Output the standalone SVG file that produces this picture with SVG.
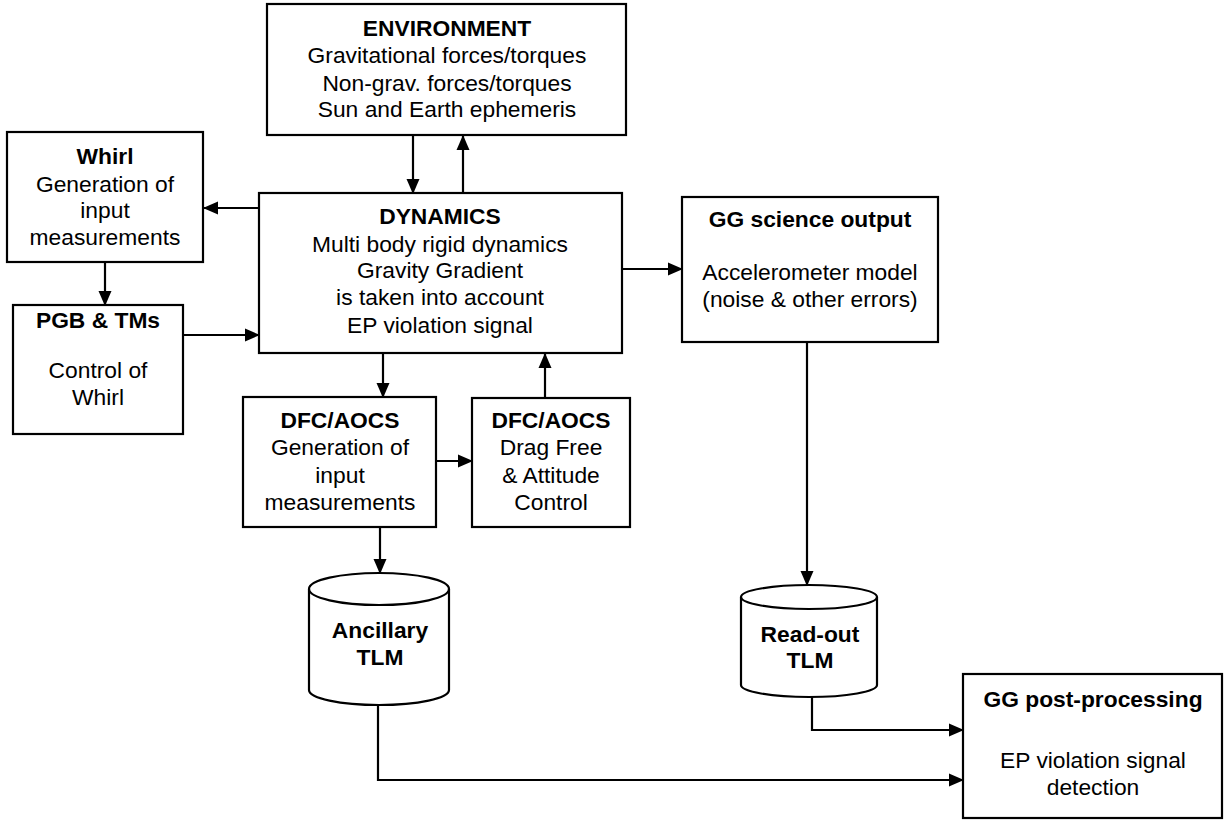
<svg xmlns="http://www.w3.org/2000/svg" width="1225" height="820" viewBox="0 0 1225 820">
<style>
.box{fill:#fff;stroke:#000;stroke-width:2.2}
.t{font-family:"Liberation Sans",Arial,sans-serif;font-size:22.8px;fill:#000;text-anchor:middle}
.b{font-weight:bold}
.c{fill:none;stroke:#000;stroke-width:2.2}
</style>
<defs>
<marker id="ah" markerWidth="15" markerHeight="14" refX="14" refY="7" orient="auto" markerUnits="userSpaceOnUse">
<path d="M0,0.5 L15,7 L0,13.5 Z" fill="#000"/>
</marker>
</defs>
<rect width="1225" height="820" fill="#fff"/>
<g id="connectors">
<line class="c" x1="413" y1="135" x2="413" y2="193" marker-end="url(#ah)"/>
<line class="c" x1="463" y1="193" x2="463" y2="136" marker-end="url(#ah)"/>
<line class="c" x1="259" y1="208" x2="204" y2="208" marker-end="url(#ah)"/>
<line class="c" x1="105" y1="262" x2="105" y2="305" marker-end="url(#ah)"/>
<line class="c" x1="183" y1="335" x2="259" y2="335" marker-end="url(#ah)"/>
<line class="c" x1="622" y1="269" x2="682" y2="269" marker-end="url(#ah)"/>
<line class="c" x1="383" y1="353" x2="383" y2="397" marker-end="url(#ah)"/>
<line class="c" x1="436" y1="461" x2="472" y2="461" marker-end="url(#ah)"/>
<line class="c" x1="545" y1="398" x2="545" y2="354" marker-end="url(#ah)"/>
<line class="c" x1="380" y1="527" x2="380" y2="573" marker-end="url(#ah)"/>
<line class="c" x1="807" y1="342" x2="807" y2="585" marker-end="url(#ah)"/>
<polyline class="c" points="812,697 812,730 963,730" marker-end="url(#ah)"/>
<polyline class="c" points="378,705 378,780 963,780" marker-end="url(#ah)"/>
</g>
<g id="environment">
<rect class="box" x="267" y="4" width="359" height="131"/>
<text class="t b" x="447" y="36">ENVIRONMENT</text>
<text class="t" x="447" y="63">Gravitational forces/torques</text>
<text class="t" x="447" y="91">Non-grav. forces/torques</text>
<text class="t" x="447" y="117">Sun and Earth ephemeris</text>
</g>
<g id="whirl">
<rect class="box" x="7" y="132" width="196" height="130"/>
<text class="t b" x="105" y="164">Whirl</text>
<text class="t" x="105" y="192">Generation of</text>
<text class="t" x="105" y="218">input</text>
<text class="t" x="105" y="245">measurements</text>
</g>
<g id="pgb">
<rect class="box" x="13" y="305" width="170" height="129"/>
<text class="t b" x="98" y="328">PGB &amp; TMs</text>
<text class="t" x="98" y="378">Control of</text>
<text class="t" x="98" y="405">Whirl</text>
</g>
<g id="dynamics">
<rect class="box" x="259" y="193" width="363" height="160"/>
<text class="t b" x="440" y="224">DYNAMICS</text>
<text class="t" x="440" y="252">Multi body rigid dynamics</text>
<text class="t" x="440" y="278">Gravity Gradient</text>
<text class="t" x="440" y="305">is taken into account</text>
<text class="t" x="440" y="333">EP violation signal</text>
</g>
<g id="gg-science">
<rect class="box" x="682" y="197" width="256" height="145"/>
<text class="t b" x="810" y="227">GG science output</text>
<text class="t" x="810" y="280">Accelerometer model</text>
<text class="t" x="810" y="307">(noise &amp; other errors)</text>
</g>
<g id="dfc-gen">
<rect class="box" x="243" y="397" width="193" height="130"/>
<text class="t b" x="340" y="428">DFC/AOCS</text>
<text class="t" x="340" y="455">Generation of</text>
<text class="t" x="340" y="483">input</text>
<text class="t" x="340" y="510">measurements</text>
</g>
<g id="dfc-ctrl">
<rect class="box" x="472" y="398" width="158" height="129"/>
<text class="t b" x="551" y="428">DFC/AOCS</text>
<text class="t" x="551" y="455">Drag Free</text>
<text class="t" x="551" y="483">&amp; Attitude</text>
<text class="t" x="551" y="510">Control</text>
</g>
<g id="ancillary">
<path class="box" d="M309,589 A70,16 0 0 1 449,589 L449,690 A70,15 0 0 1 309,690 Z"/>
<path class="c" d="M309,589 A70,16 0 0 0 449,589"/>
<text class="t b" x="380" y="638">Ancillary</text>
<text class="t b" x="380" y="665">TLM</text>
</g>
<g id="readout">
<path class="box" d="M741,597 A68,12 0 0 1 877,597 L877,685 A68,12 0 0 1 741,685 Z"/>
<path class="c" d="M741,597 A68,12 0 0 0 877,597"/>
<text class="t b" x="810" y="642">Read-out</text>
<text class="t b" x="810" y="668">TLM</text>
</g>
<g id="gg-post">
<rect class="box" x="963" y="674" width="259" height="144"/>
<text class="t b" x="1093" y="707">GG post-processing</text>
<text class="t" x="1093" y="768">EP violation signal</text>
<text class="t" x="1093" y="795">detection</text>
</g>
</svg>
